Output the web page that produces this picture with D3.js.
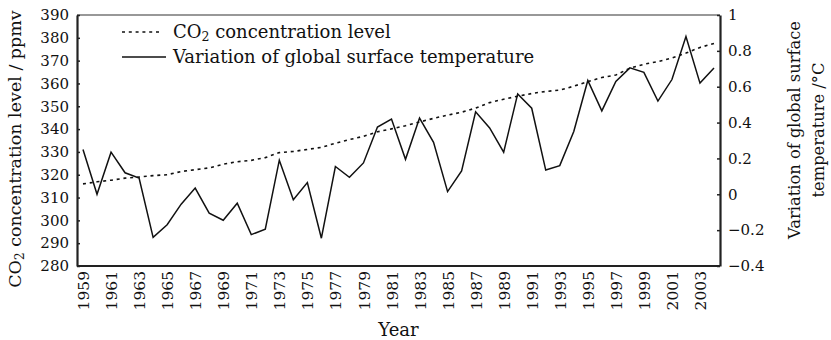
<!DOCTYPE html>
<html>
<head>
<meta charset="utf-8">
<script src="https://cdn.jsdelivr.net/npm/d3@7"></script>
<style>
  body { margin: 0; background: #fff; }
  svg text { font-family: "DejaVu Serif", serif; fill: #111; }
</style>
</head>
<body>
<svg width="831" height="340"></svg>
<script>
// years 1959..2004
var years = d3.range(1959, 2005);

// CO2 concentration (ppmv)
var co2 = [316.0, 316.9, 317.6, 318.5, 319.0, 319.6, 320.0, 321.4, 322.2, 323.0,
           324.6, 325.7, 326.3, 327.5, 329.7, 330.2, 331.1, 332.0, 333.8, 335.4,
           336.8, 338.8, 340.1, 341.5, 343.1, 344.7, 346.1, 347.4, 349.2, 351.6,
           353.1, 354.4, 355.6, 356.5, 357.1, 358.8, 360.8, 362.6, 363.7, 366.7,
           368.4, 369.6, 371.1, 373.3, 375.8, 377.5];

// global surface temperature variation (°C)
var temp = [0.25, 0.00, 0.235, 0.12, 0.09, -0.24, -0.17, -0.055, 0.035, -0.105,
            -0.145, -0.05, -0.225, -0.195, 0.19, -0.03, 0.065, -0.245, 0.155, 0.095,
            0.175, 0.375, 0.42, 0.195, 0.425, 0.29, 0.015, 0.13, 0.46, 0.37,
            0.235, 0.56, 0.48, 0.135, 0.16, 0.35, 0.635, 0.465, 0.63, 0.705,
            0.68, 0.52, 0.64, 0.88, 0.62, 0.705];

var co2Ticks = d3.range(280, 391, 10);
var tempTicks = [-0.4, -0.2, 0, 0.2, 0.4, 0.6, 0.8, 1];
var yearTicks = d3.range(1959, 2004, 2);

var svg = d3.select("svg"),
    margin = {top: 15, right: 111, bottom: 74, left: 77},
    width = +svg.attr("width") - margin.left - margin.right,
    height = +svg.attr("height") - margin.top - margin.bottom,
    g = svg.append("g").attr("transform", "translate(" + margin.left + "," + margin.top + ")");

var xScale = d3.scaleLinear().domain([1959, 2004]).range([6, width - 6]),
    yLeft = d3.scaleLinear().domain([280, 390]).range([height, 0]),
    yRight = d3.scaleLinear().domain([-0.4, 1]).range([height, 0]);

var fmt = function (d) {
    return String(+d.toFixed(1)).replace("-", "\u2212");
};

// top frame line
g.append("line")
    .attr("x1", 0).attr("x2", width)
    .attr("y1", 0).attr("y2", 0)
    .attr("stroke", "#333").attr("stroke-width", 1.2);

// bottom axis: labels only
var gX = g.append("g")
    .attr("transform", "translate(0," + height + ")")
    .call(d3.axisBottom(xScale).tickValues(yearTicks).tickSize(0).tickFormat(d3.format("d")));
gX.select(".domain").remove();
gX.append("line")
    .attr("x1", 0).attr("x2", width)
    .attr("stroke", "#222").attr("stroke-width", 2.2);
gX.selectAll(".tick text")
    .attr("transform", "rotate(-90)")
    .attr("x", -5).attr("y", 0).attr("dy", "0.36em")
    .style("text-anchor", "end")
    .style("font-size", "15.5px");

// left axis
var gY = g.append("g")
    .call(d3.axisLeft(yLeft).tickValues(co2Ticks).tickSizeInner(-3).tickSizeOuter(0).tickPadding(8));
gY.select(".domain").attr("stroke", "#222").attr("stroke-width", 2.2);
gY.selectAll(".tick text").style("font-size", "15px");

// right axis
var gY2 = g.append("g")
    .attr("transform", "translate(" + width + ",0)")
    .call(d3.axisRight(yRight).tickValues(tempTicks).tickSizeInner(-3).tickSizeOuter(0).tickPadding(8).tickFormat(fmt));
gY2.select(".domain").attr("stroke", "#222").attr("stroke-width", 2.2);
gY2.selectAll(".tick text").style("font-size", "15px");

svg.selectAll(".tick line").attr("stroke", "#222").attr("stroke-width", 1.5);

// lines
var co2Line = d3.line()
    .x(function (d, i) { return xScale(years[i]); })
    .y(function (d) { return yLeft(d); });
var tempLine = d3.line()
    .x(function (d, i) { return xScale(years[i]); })
    .y(function (d) { return yRight(d); });

g.append("path")
    .datum(co2)
    .attr("d", co2Line)
    .attr("fill", "none")
    .attr("stroke", "#111")
    .attr("stroke-width", 1.6)
    .attr("stroke-dasharray", "3,3.8");

g.append("path")
    .datum(temp)
    .attr("d", tempLine)
    .attr("fill", "none")
    .attr("stroke", "#111")
    .attr("stroke-width", 1.5)
    .attr("stroke-linejoin", "miter");

// legend
var legend = svg.append("g").attr("class", "legend");
legend.append("line")
    .attr("x1", 122).attr("x2", 162).attr("y1", 32).attr("y2", 32)
    .attr("stroke", "#111").attr("stroke-width", 1.6).attr("stroke-dasharray", "3,3.8");
legend.append("line")
    .attr("x1", 122).attr("x2", 166).attr("y1", 57).attr("y2", 57)
    .attr("stroke", "#111").attr("stroke-width", 1.5);
var t1 = legend.append("text").attr("x", 173).attr("y", 38).style("font-size", "18px");
t1.append("tspan").text("CO");
t1.append("tspan").attr("dy", 3).style("font-size", "12.5px").text("2");
t1.append("tspan").attr("dy", -3).text(" concentration level");
legend.append("text").attr("x", 173).attr("y", 63).style("font-size", "18px")
    .text("Variation of global surface temperature");

// axis titles
var lt = svg.append("text")
    .attr("transform", "translate(21,149) rotate(-90)")
    .style("text-anchor", "middle")
    .style("font-size", "17.5px");
lt.append("tspan").text("CO");
lt.append("tspan").attr("dy", 3).style("font-size", "12px").text("2");
lt.append("tspan").attr("dy", -3).text(" concentration level / ppmv");

svg.append("text")
    .attr("transform", "translate(800,130) rotate(-90)")
    .style("text-anchor", "middle")
    .style("font-size", "16.3px")
    .text("Variation of global surface");
svg.append("text")
    .attr("transform", "translate(824,130) rotate(-90)")
    .style("text-anchor", "middle")
    .style("font-size", "16.3px")
    .text("temperature /\u00b0C");

svg.append("text")
    .attr("x", margin.left + width / 2).attr("y", 336)
    .style("text-anchor", "middle")
    .style("font-size", "18px")
    .text("Year");
</script>
</body>
</html>
